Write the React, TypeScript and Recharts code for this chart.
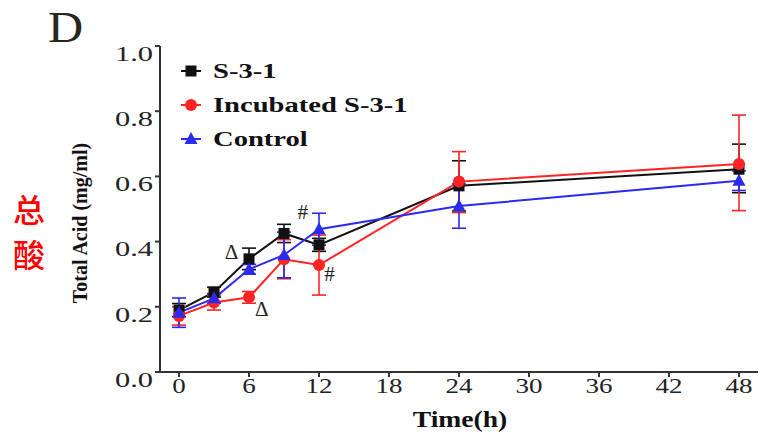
import React from "react";
import {
  LineChart,
  Line,
  XAxis,
  YAxis,
  ErrorBar,
  ReferenceDot,
} from "recharts";

// sampling times (h)
const times = [0, 3, 6, 9, 12, 24, 48];

// total acid (mg/ml)
const s31 = [0.19, 0.245, 0.347, 0.425, 0.39, 0.571, 0.622];
const s31Err: (number | number[])[] = [0.02, 0.015, 0.033, 0.028, 0.02, 0.077, [0.072, 0.077]];

const incubated = [0.172, 0.213, 0.229, 0.346, 0.328, 0.584, 0.638];
const incubatedErr: (number | number[])[] = [0.028, 0.023, 0.018, 0.06, 0.092, [0.095, 0.092], [0.143, 0.15]];

const control = [0.182, 0.226, 0.315, 0.359, 0.438, 0.509, 0.587];
const controlErr: (number | number[])[] = [0.045, 0.015, 0.015, 0.07, 0.049, 0.068, 0.03];

const xTicks = [0, 6, 12, 18, 24, 30, 36, 42, 48];
const yTicks = [0, 0.2, 0.4, 0.6, 0.8, 1.0];

// significance marks, placed in data coordinates
const marks = [
  { x: 4.5, y: 0.368, text: "Δ" },
  { x: 7.1, y: 0.193, text: "Δ" },
  { x: 10.6, y: 0.49, text: "#" },
  { x: 12.9, y: 0.3, text: "#" },
];

const BLACK = "#111111";
const RED = "#ff2424";
const BLUE = "#2a2af0";
const SERIF = "'Liberation Serif', 'Times New Roman', serif";

const data = times.map((t, i) => ({
  time: t,
  s31: s31[i],
  s31Err: s31Err[i],
  incubated: incubated[i],
  incubatedErr: incubatedErr[i],
  control: control[i],
  controlErr: controlErr[i],
}));

const legendItems = [
  { name: "S-3-1", color: BLACK, shape: "square" },
  { name: "Incubated S-3-1", color: RED, shape: "circle" },
  { name: "Control", color: BLUE, shape: "triangle" },
];

function Marker({ shape, cx, cy, color }: { shape: string; cx: number; cy: number; color: string }) {
  if (shape === "square") {
    return <rect x={cx - 5.5} y={cy - 5.5} width={11} height={11} fill={color} />;
  }
  if (shape === "circle") {
    return <circle cx={cx} cy={cy} r={6} fill={color} />;
  }
  return (
    <polygon
      points={`${cx},${cy - 7} ${cx - 6.5},${cy + 5} ${cx + 6.5},${cy + 5}`}
      fill={color}
    />
  );
}

const makeDot = (shape: string, color: string) => (props: any) => {
  const { cx, cy, index } = props;
  if (cx == null || cy == null) return <g key={`d-${shape}-${index}`} />;
  return (
    <g key={`d-${shape}-${index}`}>
      <Marker shape={shape} cx={cx} cy={cy} color={color} />
    </g>
  );
};

function YTick(props: any) {
  const { x, y, payload } = props;
  return (
    <text
      transform={`translate(${x},${y + 8}) scale(1.45,1)`}
      textAnchor="end"
      dominantBaseline="central"
      fontFamily={SERIF}
      fontSize={21}
      fill="#222"
    >
      {Number(payload.value).toFixed(1)}
    </text>
  );
}

function XTick(props: any) {
  const { x, y, payload } = props;
  return (
    <text
      transform={`translate(${x},${y + 14}) scale(1.35,1)`}
      textAnchor="middle"
      fontFamily={SERIF}
      fontSize={20}
      fill="#222"
    >
      {payload.value}
    </text>
  );
}

function Legend() {
  return (
    <svg
      width={260}
      height={110}
      style={{ position: "absolute", left: 170, top: 52 }}
    >
      {legendItems.map((item, i) => {
        const cy = 19 + i * 34;
        return (
          <g key={item.name}>
            <line x1={11} x2={31} y1={cy} y2={cy} stroke={item.color} strokeWidth={2} />
            <Marker shape={item.shape} cx={21} cy={cy} color={item.color} />
            <text
              transform={`translate(43,${cy}) scale(1.3,1)`}
              dominantBaseline="central"
              fontFamily={SERIF}
              fontWeight="bold"
              fontSize={22}
              fill="#111"
            >
              {item.name}
            </text>
          </g>
        );
      })}
    </svg>
  );
}

export default function App() {
  return (
    <div
      style={{
        position: "absolute",
        left: 0,
        top: 0,
        width: 767,
        height: 434,
        background: "#fff",
      }}
    >
      <div
        style={{
          position: "absolute",
          left: 48,
          top: 5,
          fontFamily: SERIF,
          fontSize: 45,
          color: "#26261a",
          lineHeight: "45px",
          transform: "scaleX(1.08)",
          transformOrigin: "left",
        }}
      >
        D
      </div>
      <div
        style={{
          position: "absolute",
          left: 13,
          top: 186,
          width: 36,
          fontFamily: "'Noto Sans CJK SC', sans-serif",
          fontSize: 32,
          fontWeight: 500,
          lineHeight: "45px",
          color: "#ff0000",
        }}
      >
        总<br />酸
      </div>

      <LineChart
        width={767}
        height={434}
        data={data}
        margin={{ top: 46, right: 9, left: 0, bottom: 0 }}
      >
        <XAxis
          dataKey="time"
          type="number"
          domain={[-1.63, 49.63]}
          ticks={xTicks}
          allowDataOverflow
          height={62}
          tickSize={5}
          tickMargin={2}
          axisLine={{ stroke: "#333", strokeWidth: 2 }}
          tickLine={{ stroke: "#333", strokeWidth: 2 }}
          tick={<XTick />}
          label={() => (
            <text
              transform="translate(460,427) scale(1.2,1)"
              textAnchor="middle"
              fontFamily={SERIF}
              fontWeight="bold"
              fontSize={23}
              fill="#111"
            >
              Time(h)
            </text>
          )}
        />
        <YAxis
          type="number"
          domain={[0, 1]}
          ticks={yTicks}
          width={160}
          tickSize={5}
          tickMargin={2}
          axisLine={{ stroke: "#333", strokeWidth: 2 }}
          tickLine={{ stroke: "#333", strokeWidth: 2 }}
          tick={<YTick />}
          label={() => (
            <text
              transform="translate(87,223) rotate(-90)"
              textAnchor="middle"
              fontFamily={SERIF}
              fontWeight="bold"
              fontSize={20}
              fill="#111"
            >
              Total Acid (mg/ml)
            </text>
          )}
        />

        <Line
          dataKey="s31"
          stroke={BLACK}
          strokeWidth={2}
          isAnimationActive={false}
          dot={makeDot("square", BLACK)}
          activeDot={false}
        >
          <ErrorBar dataKey="s31Err" width={7} stroke={BLACK} strokeWidth={1.6} direction="y" />
        </Line>
        <Line
          dataKey="incubated"
          stroke={RED}
          strokeWidth={2}
          isAnimationActive={false}
          dot={makeDot("circle", RED)}
          activeDot={false}
        >
          <ErrorBar dataKey="incubatedErr" width={7} stroke={RED} strokeWidth={1.6} direction="y" />
        </Line>
        <Line
          dataKey="control"
          stroke={BLUE}
          strokeWidth={2}
          isAnimationActive={false}
          dot={makeDot("triangle", BLUE)}
          activeDot={false}
        >
          <ErrorBar dataKey="controlErr" width={7} stroke={BLUE} strokeWidth={1.6} direction="y" />
        </Line>

        {marks.map((m, i) => (
          <ReferenceDot
            key={`m-${i}`}
            x={m.x}
            y={m.y}
            r={0}
            ifOverflow="visible"
            shape={(p: any) => (
              <text
                x={p.cx}
                y={p.cy}
                textAnchor="middle"
                dominantBaseline="central"
                fontFamily={SERIF}
                fontSize={21}
                fill="#222"
              >
                {m.text}
              </text>
            )}
          />
        ))}
      </LineChart>

      <Legend />
    </div>
  );
}
